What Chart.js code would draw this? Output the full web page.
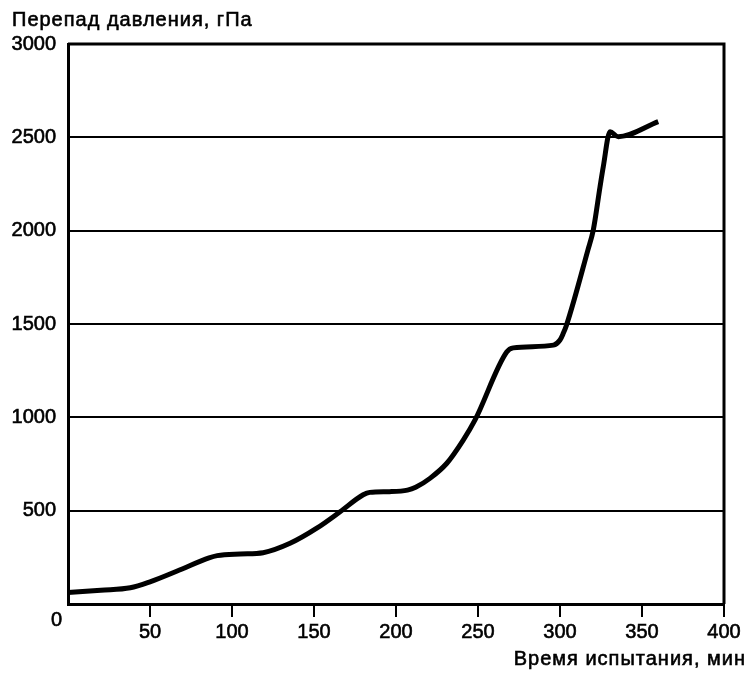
<!DOCTYPE html>
<html>
<head>
<meta charset="utf-8">
<script src="https://cdn.jsdelivr.net/npm/chart.js@4"></script>
<style>
html,body{margin:0;padding:0;background:#fff;}
#wrap{width:748px;height:680px;}
</style>
</head>
<body>
<div id="wrap"><canvas id="c" width="748" height="680"></canvas></div>
<script>
const timeMin = [0, 20, 38, 50, 68, 86, 91, 105, 119, 135.4, 151.7, 165.9, 180, 184, 196, 207, 212, 220.7, 231, 241, 248.2, 267.5, 271.5, 296, 300, 302, 304, 317, 320.3, 324.4, 326.4, 330.5, 335.5, 359.9];
const pressure = [61, 74, 87, 119, 182, 247, 259, 268, 275, 325, 406, 494, 585, 598, 602, 610, 625, 673, 754, 878, 986, 1350, 1372, 1387, 1414, 1450, 1495, 1896, 2004, 2235, 2343, 2530, 2503, 2584];
const xTicks = [50, 100, 150, 200, 250, 300, 350, 400];
const yTicks = [0, 500, 1000, 1500, 2000, 2500, 3000];
const yTitle = 'Перепад давления, гПа';
const xTitle = 'Время испытания, мин';
const originLabel = '0';

const FONT = 'Liberation Sans, Arial, sans-serif';
const points = timeMin.map((t, i) => ({x: t, y: pressure[i]}));

function boldText(ctx, s, x, y) {
  ctx.fillText(s, x, y);
  ctx.strokeText(s, x, y);
}

const framePlugin = {
  id: 'frame',
  afterDraw(chart) {
    const {ctx, chartArea: a, scales} = chart;
    ctx.save();
    ctx.strokeStyle = '#000';
    ctx.lineWidth = 3;
    ctx.beginPath();
    ctx.moveTo(a.right, a.top - 1.5);
    ctx.lineTo(a.right, a.bottom);
    ctx.moveTo(a.left, a.top);
    ctx.lineTo(a.right, a.top);
    ctx.stroke();
    ctx.fillStyle = '#000';
    ctx.lineWidth = 0.6;
    ctx.font = '20px ' + FONT;
    ctx.textAlign = 'right';
    ctx.textBaseline = 'middle';
    boldText(ctx, originLabel, scales.x.getPixelForValue(0) - 6, scales.y.getPixelForValue(0) + 16);
    ctx.letterSpacing = '1px';
    ctx.textBaseline = 'alphabetic';
    ctx.textAlign = 'left';
    boldText(ctx, yTitle, 12, 26);
    ctx.textAlign = 'right';
    boldText(ctx, xTitle, 746, 665);
    ctx.restore();
  }
};

new Chart(document.getElementById('c'), {
  type: 'line',
  data: {
    datasets: [{
      data: points,
      borderColor: '#000',
      borderWidth: 5,
      pointRadius: 0,
      fill: false,
      cubicInterpolationMode: 'monotone',
      borderCapStyle: 'butt',
      borderJoinStyle: 'round'
    }]
  },
  options: {
    responsive: false,
    animation: false,
    layout: {padding: {left: 0, right: 24, top: 44, bottom: 0}},
    plugins: {legend: {display: false}, tooltip: {enabled: false}, title: {display: false}},
    scales: {
      x: {
        type: 'linear',
        min: 0, max: 400,
        afterBuildTicks(s) { s.ticks = xTicks.map(v => ({value: v})); },
        afterFit(s) { s.height = 76; },
        grid: {display: true, drawOnChartArea: false, drawTicks: true, tickLength: 13, color: '#000', lineWidth: 2},
        border: {display: true, color: '#000', width: 3},
        ticks: {color: '#000', font: {family: FONT, size: 20}, padding: 3, maxRotation: 0,
          textStrokeColor: '#000', textStrokeWidth: 0.6}
      },
      y: {
        type: 'linear',
        min: 0, max: 3000,
        afterBuildTicks(s) { s.ticks = yTicks.map(v => ({value: v})); },
        afterFit(s) { s.width = 68; },
        grid: {display: true, drawTicks: false, color: '#000', lineWidth: 2},
        border: {display: true, color: '#000', width: 3},
        ticks: {color: '#000', font: {family: FONT, size: 20}, padding: 12,
          textStrokeColor: '#000', textStrokeWidth: 0.6,
          callback: v => v === 0 ? '' : String(v)}
      }
    }
  },
  plugins: [framePlugin]
});
</script>
</body>
</html>
